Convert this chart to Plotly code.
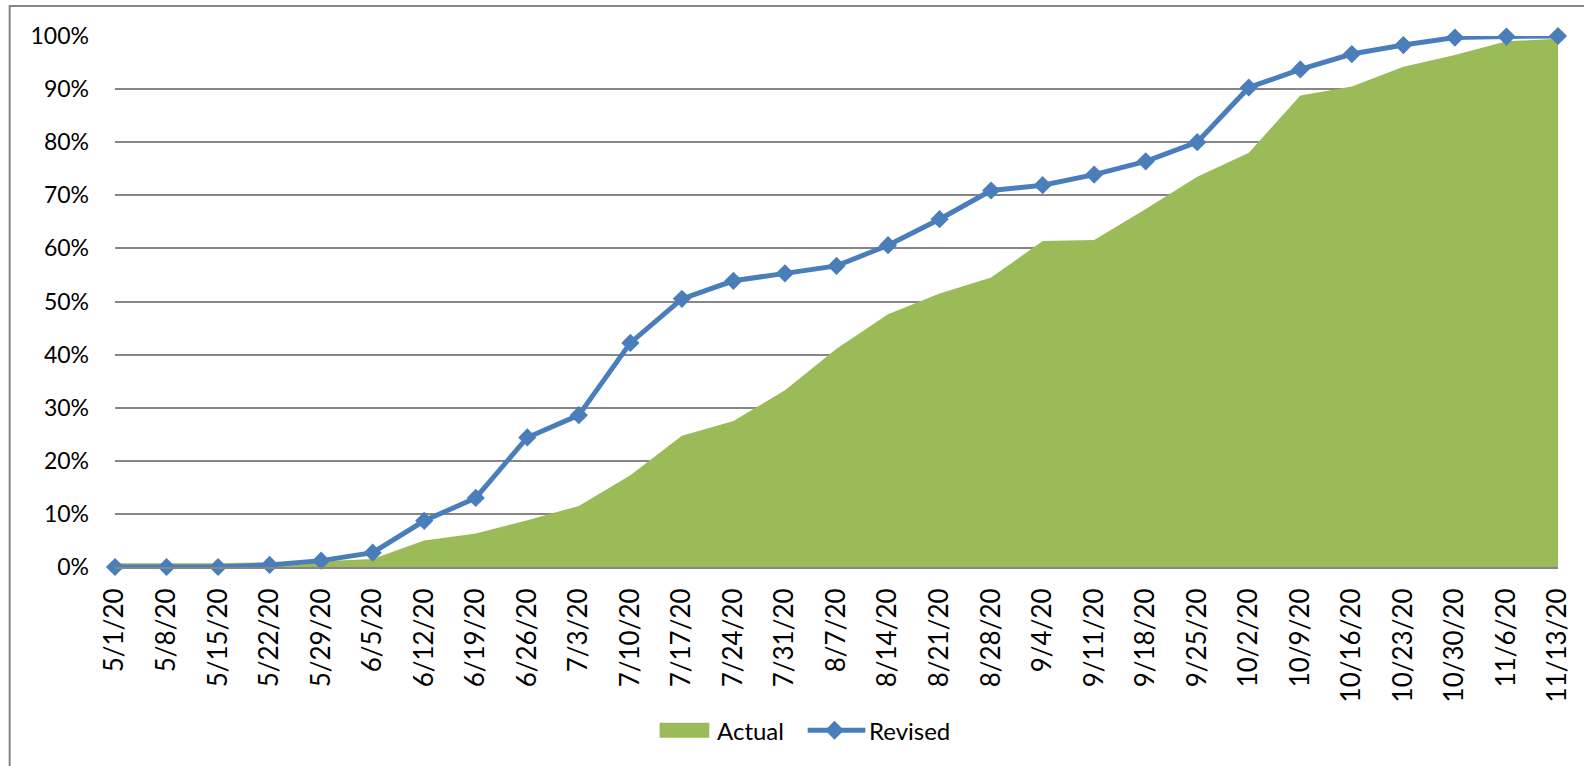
import plotly.graph_objects as go

dates = ["5/1/20", "5/8/20", "5/15/20", "5/22/20", "5/29/20", "6/5/20", "6/12/20",
         "6/19/20", "6/26/20", "7/3/20", "7/10/20", "7/17/20", "7/24/20", "7/31/20",
         "8/7/20", "8/14/20", "8/21/20", "8/28/20", "9/4/20", "9/11/20", "9/18/20",
         "9/25/20", "10/2/20", "10/9/20", "10/16/20", "10/23/20", "10/30/20",
         "11/6/20", "11/13/20"]

actual = [0.007, 0.007, 0.007, 0.009, 0.011, 0.015, 0.050, 0.063, 0.088, 0.115,
          0.173, 0.247, 0.275, 0.333, 0.411, 0.476, 0.515, 0.545, 0.614, 0.616,
          0.674, 0.735, 0.780, 0.888, 0.905, 0.942, 0.964, 0.990, 0.995]

revised = [0.0, 0.0, 0.0, 0.004, 0.012, 0.027, 0.087, 0.130, 0.244, 0.286,
           0.422, 0.505, 0.539, 0.553, 0.567, 0.606, 0.655, 0.709, 0.719, 0.739,
           0.764, 0.800, 0.903, 0.937, 0.966, 0.983, 0.997, 0.999, 1.0]

y_ticks = [0, 0.1, 0.2, 0.3, 0.4, 0.5, 0.6, 0.7, 0.8, 0.9, 1.0]
y_labels = ["0%", "10%", "20%", "30%", "40%", "50%", "60%", "70%", "80%", "90%", "100%"]

series_names = ["Actual", "Revised"]

GREEN = "#9BBB59"
BLUE = "#4A7EBB"
GRID = "#868686"
FONT = "Lato"

fig = go.Figure()
fig.add_trace(go.Scatter(
    x=dates, y=actual, name=series_names[0], mode="lines",
    line=dict(width=0, color=GREEN), fill="tozeroy", fillcolor=GREEN,
    showlegend=False, hoverinfo="skip",
))
fig.add_trace(go.Scatter(
    x=dates, y=revised, name=series_names[1], mode="lines+markers",
    line=dict(width=5, color=BLUE),
    marker=dict(symbol="diamond", size=14, color=BLUE),
    cliponaxis=False, showlegend=False, hoverinfo="skip",
))

L, R, T, B = 115, 1567, 36, 567.5
W, H = 1584, 766
pw, ph = R - L, B - T


def px(xp):
    return (xp - L) / pw


def py(yp):
    return (B - yp) / ph


LEG_Y = 731
shapes = [
    # chart frame
    dict(type="rect", xref="paper", yref="paper",
         x0=px(9), x1=px(W + 20), y0=py(H + 20), y1=py(6),
         line=dict(color=GRID, width=2), fillcolor="rgba(0,0,0,0)", layer="below"),
    # legend: Actual swatch
    dict(type="rect", xref="paper", yref="paper",
         x0=px(663), x1=px(713), y0=py(738.5), y1=py(723.5),
         line=dict(width=0), fillcolor=GREEN),
    # legend: Revised line
    dict(type="line", xref="paper", yref="paper",
         x0=px(812), x1=px(870), y0=py(LEG_Y), y1=py(LEG_Y),
         line=dict(color=BLUE, width=5)),
    # legend: Revised diamond
    dict(type="path", xref="paper", yref="paper",
         path=(f"M {px(839 - 9.5)} {py(LEG_Y)} L {px(839)} {py(LEG_Y - 9.5)} "
               f"L {px(839 + 9.5)} {py(LEG_Y)} L {px(839)} {py(LEG_Y + 9.5)} Z"),
         line=dict(width=0), fillcolor=BLUE),
]

annotations = [
    dict(text=series_names[0], xref="paper", yref="paper", x=px(719), y=py(LEG_Y),
         xanchor="left", yanchor="middle", showarrow=False,
         font=dict(family=FONT, size=24, color="#000000")),
    dict(text=series_names[1], xref="paper", yref="paper", x=px(872), y=py(LEG_Y),
         xanchor="left", yanchor="middle", showarrow=False,
         font=dict(family=FONT, size=24, color="#000000")),
]

fig.update_layout(
    width=W, height=H,
    margin=dict(l=L, r=W - R, t=T, b=H - B, pad=0),
    paper_bgcolor="white", plot_bgcolor="white",
    font=dict(family=FONT, size=23, color="#000000"),
    showlegend=False,
    hovermode=False,
    xaxis=dict(
        type="category", categoryorder="array", categoryarray=dates,
        range=[0, len(dates) - 1],
        showgrid=False, zeroline=False,
        showline=True, linecolor=GRID, linewidth=2,
        tickangle=-90, ticks="", ticklabelstandoff=9,
        tickfont=dict(family=FONT, size=26, color="#000000"),
    ),
    yaxis=dict(
        range=[0, 1], tickvals=y_ticks, ticktext=y_labels,
        showgrid=True, gridcolor=GRID, gridwidth=2,
        zeroline=False, showline=False, ticks="",
        ticklabelstandoff=25,
        tickfont=dict(family=FONT, size=23, color="#000000"),
    ),
    shapes=shapes,
    annotations=annotations,
)

fig.write_html("out.html",
               config={"displayModeBar": False},
               post_script="document.body.style.margin='0px';"
                           "document.body.style.overflow='hidden';")
